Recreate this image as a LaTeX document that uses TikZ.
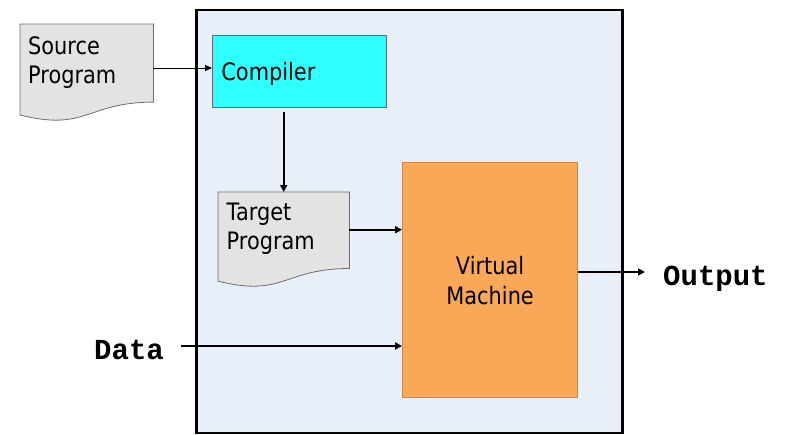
\documentclass[tikz,border=0pt]{standalone}
\usepackage{fontspec}
\usetikzlibrary{calc,arrows.meta}
\newfontfamily\boxfont[FakeStretch=0.87]{DejaVu Sans}
\newfontfamily\codefont{Liberation Mono}
\definecolor{panelfill}{HTML}{E9EFF8}
\definecolor{docfill}{HTML}{E3E3E3}
\definecolor{docline}{HTML}{6E6E6E}
\definecolor{compfill}{HTML}{2EFFFF}
\definecolor{compline}{HTML}{5A6A78}
\definecolor{vmfill}{HTML}{F9A857}
\definecolor{vmline}{HTML}{CF8640}

% document symbol with a wavy lower edge, drawn over a named placeholder node
\newcommand\drawdocument[1]{%
  \draw[docshape] (#1.north west) -- (#1.north east)
    -- ($(#1.north east)!0.802!(#1.south east)$)
    .. controls ($(#1.north)!0.802!(#1.south)$) and ($(#1.north)!1.1075!(#1.south)$)
    .. ($(#1.north west)!0.934!(#1.south west)$) -- cycle;}

\begin{document}
\begin{tikzpicture}[x=1pt,y=-1pt,
  panelbox/.style={draw=black, line width=2.7pt, fill=panelfill, inner sep=0pt},
  docslot/.style={inner sep=0pt, anchor=north west},
  docshape/.style={draw=docline, line width=0.8pt, fill=docfill},
  doctext/.style={font=\boxfont\fontsize{24}{29}\selectfont, align=left, anchor=north west, inner sep=0pt},
  compbox/.style={draw=compline, line width=0.8pt, fill=compfill, anchor=north west,
    minimum width=174pt, minimum height=72pt, text width=156pt, inner sep=9pt, align=left,
    text depth=0pt, font=\boxfont\fontsize{24}{29}\selectfont},
  vmbox/.style={draw=vmline, line width=1.2pt, fill=vmfill, anchor=north west,
    minimum width=175pt, minimum height=235pt, align=center,
    font=\boxfont\fontsize{24}{30}\selectfont},
  codelabel/.style={font=\codefont\bfseries\fontsize{29}{31}\selectfont, inner sep=0pt, anchor=base west},
  thinarrow/.style={line width=1pt, -{Triangle[length=7pt,width=6pt]}},
  thickarrow/.style={line width=2pt, -{Triangle[length=7pt,width=7pt]}}]
\useasboundingbox (0,0) rectangle (789,434);

% machine housing
\node[panelbox, anchor=north west, minimum width=426pt, minimum height=423pt] (host) at (195,8.5) {};

% source program outside the machine
\node[docslot, minimum width=133pt, minimum height=97pt] (src) at (20,24) {};
\drawdocument{src}
\node[doctext] (srctext) at (28,36) {Source\\Program};

% compiler
\node[compbox] (cmp) at (212,35) {Compiler};

% target program
\node[docslot, minimum width=131pt, minimum height=95pt] (tgt) at (218,192) {};
\drawdocument{tgt}
\node[doctext] (tgttext) at (226.5,203) {Target\\Program};

% virtual machine
\node[vmbox] (vm) at (402,162) {Virtual\\Machine};

% external data and output labels
\node[codelabel] (data) at (94,359) {Data};
\node[codelabel] (out) at (663,285) {Output};

% connectors
\coordinate (srcrow) at (0,68);
\draw[thinarrow] (src.east |- srcrow) -- (cmp.west |- srcrow);

\draw[thickarrow] ([yshift=-4pt]cmp.south -| tgt.north) -- (tgt.north);

\coordinate (tgtout) at ([yshift=10pt]tgt.east);
\draw[thickarrow] (tgtout) -- (tgtout -| vm.west);

\coordinate (datain) at (181,346);
\draw[thickarrow] (datain) -- (datain -| vm.west);

\coordinate (outrow) at (0,272);
\draw[thickarrow] (vm.east |- outrow) -- ([xshift=-18pt]out.west |- outrow);
\end{tikzpicture}
\end{document}
